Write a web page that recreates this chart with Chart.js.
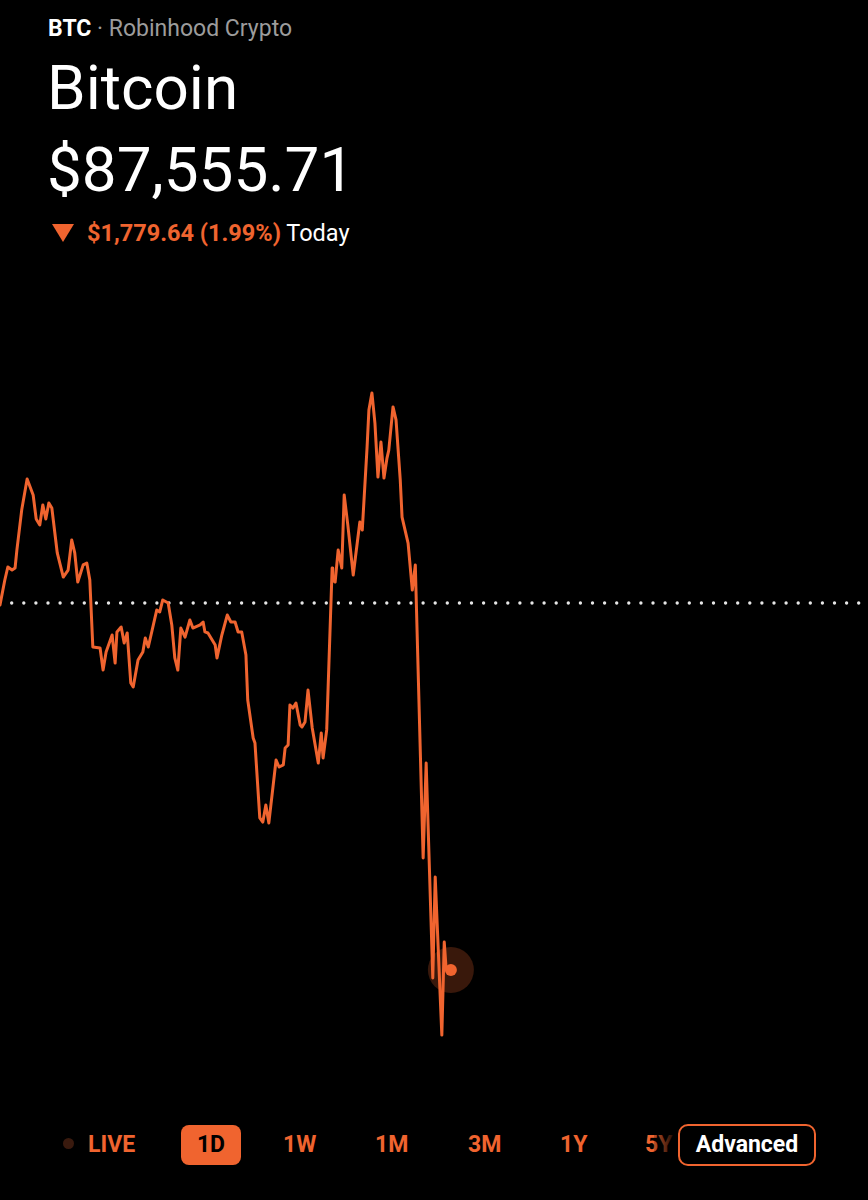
<!DOCTYPE html>
<html>
<head>
<meta charset="utf-8">
<script src="https://cdn.jsdelivr.net/npm/chart.js@4.4.1/dist/chart.umd.min.js"></script>
<style>
  html, body { margin: 0; padding: 0; background: #000; }
  body { width: 868px; height: 1200px; position: relative; overflow: hidden; font-family: Roboto, "Noto Sans", sans-serif; color: #fff; }
  .abs { position: absolute; white-space: nowrap; }
  #sub { left: 48px; top: 15px; font-size: 23px; line-height: 28px; color: #9c9c9c; }
  #sub b { color: #fff; font-weight: 700; }
  #name { left: 47px; top: 57px; font-size: 62px; line-height: 62px; }
  #price { left: 47px; top: 139px; font-size: 62px; line-height: 62px; }
  #change { left: 52px; top: 219px; font-size: 23.5px; line-height: 28px; }
  #change .tri { display: inline-block; width: 0; height: 0; border-left: 11px solid transparent; border-right: 11px solid transparent; border-top: 18px solid #f0642f; margin-right: 13px; vertical-align: -1px; }
  #change .dn { color: #f0642f; font-weight: 700; }
  #chartWrap { position: absolute; left: 0; top: 280px; width: 868px; height: 800px; }
  .tab { position: absolute; top: 1145px; transform: translateY(-50%); font-size: 23px; font-weight: 700; color: #f0642f; line-height: 26px; }
  #live .dot { display: inline-block; width: 11px; height: 11px; border-radius: 50%; background: #3a1a0e; margin-right: 14px; vertical-align: 3px; }
  #d1 { left: 181px; width: 60px; height: 40px; line-height: 40px; text-align: center; background: #f0642f; color: #000; border-radius: 8px; }
  #fade { position: absolute; left: 654px; top: 1120px; width: 26px; height: 50px; background: linear-gradient(to right, rgba(0,0,0,0.2), #000 90%); }
  #adv { left: 678px; width: 134px; height: 38px; line-height: 38px; text-align: center; border: 2px solid #f0642f; border-radius: 10px; color: #fff; background: #000; }
</style>
</head>
<body>
<div id="sub" class="abs"><b>BTC</b> · Robinhood Crypto</div>
<div id="name" class="abs">Bitcoin</div>
<div id="price" class="abs">$87,555.71</div>
<div id="change" class="abs"><span class="tri"></span><span class="dn">$1,779.64 (1.99%)</span> Today</div>

<div id="chartWrap"><canvas id="btcChart"></canvas></div>

<div id="live" class="tab" style="left:63px"><span class="dot"></span>LIVE</div>
<div id="d1" class="tab">1D</div>
<div class="tab" style="left:283px">1W</div>
<div class="tab" style="left:375px">1M</div>
<div class="tab" style="left:468px">3M</div>
<div class="tab" style="left:560px">1Y</div>
<div class="tab" style="left:645px">5Y</div>
<div id="fade"></div>
<div id="adv" class="tab">Advanced</div>

<script>
// minutes since the start of the 24h window
const minutes = [
    0, 8, 13, 20, 25, 28, 36, 45, 55, 60, 66, 71, 76, 81, 86, 95, 105, 113, 119, 124,
    129, 138, 144, 149, 154, 166, 171, 176, 186, 191, 194, 201, 206, 211, 217, 221, 229, 237, 241, 246,
    260, 265, 270, 279, 285, 290, 295, 300, 307, 315, 320, 332, 337, 340, 345, 357, 360, 368, 377, 383,
    390, 395, 401, 408, 411, 420, 423, 431, 436, 441, 446, 458, 463, 470, 473, 478, 481, 486, 491, 498,
    501, 506, 511, 518, 528, 533, 536, 542, 551, 552, 556, 561, 567, 571, 577, 586, 597, 601, 609, 612,
    617, 622, 627, 632, 637, 642, 645, 652, 657, 664, 667, 677, 684, 689, 702, 707, 718, 722, 733, 737,
    740, 748
];

// BTC price in USD
const prices = [
    89326, 89447, 89510, 89495, 89505, 89592, 89786, 89937, 89859, 89743, 89714, 89811, 89743, 89820, 89796, 89578, 89461, 89495, 89641, 89578,
    89437, 89520, 89529, 89447, 89122, 89117, 89010, 89098, 89180, 89044, 89195, 89219, 89141, 89190, 88947, 88928, 89059, 89098, 89166, 89122,
    89301, 89292, 89350, 89335, 89229, 89069, 89010, 89214, 89170, 89253, 89214, 89229, 89243, 89195, 89190, 89132, 89069, 89180, 89277, 89243,
    89243, 89195, 89195, 89083, 88865, 88681, 88656, 88293, 88273, 88356, 88269, 88574, 88540, 88550, 88632, 88647, 88841, 88826, 88850, 88744,
    88734, 88758, 88913, 88729, 88559, 88705, 88584, 88720, 89505, 89447, 89437, 89592, 89505, 89859, 89714, 89471, 89728, 89689, 90092, 90271,
    90354, 90208, 89946, 90116, 89941, 90038, 90077, 90286, 90223, 89932, 89752, 89626, 89398, 89520, 88099, 88559, 87517, 88007, 87240, 87691,
    87566, 87555.71
];

const prevClose = 89335.35;
const dayMinutes = 1440;
const yMin = 87022.3;
const yMax = 90901.6;

const orange = 'rgb(240,100,47)';
const last = prices.length - 1;

const points = minutes.map((m, i) => ({ x: m, y: prices[i] }));

// marker datasets get empty end points so the layout keeps no room for the big halo
const marker = [{ x: 0, y: null }, { x: minutes[last], y: prices[last] }, { x: dayMinutes, y: null }];

new Chart(document.getElementById('btcChart'), {
    type: 'line',
    data: {
        datasets: [
            {
                data: points,
                borderColor: orange,
                borderWidth: 3,
                borderJoinStyle: 'round',
                borderCapStyle: 'round',
                pointRadius: 0,
                tension: 0,
                clip: false,
                order: 1
            },
            {
                data: marker,
                showLine: false,
                pointRadius: ctx => ctx.dataIndex === 1 ? 6 : 0,
                pointBorderWidth: 0,
                pointBackgroundColor: orange,
                clip: false,
                order: 0
            },
            {
                data: marker,
                showLine: false,
                pointRadius: ctx => ctx.dataIndex === 1 ? 23 : 0,
                pointBorderWidth: 0,
                pointBackgroundColor: 'rgba(240,100,47,0.24)',
                clip: false,
                order: 2
            },
            {
                data: [{ x: 0, y: prevClose }, { x: dayMinutes, y: prevClose }],
                borderColor: '#e6e6e6',
                borderWidth: 3.4,
                borderCapStyle: 'round',
                borderDash: [0, 12.1],
                borderDashOffset: 0.4,
                pointRadius: 0,
                clip: false,
                order: 3
            }
        ]
    },
    options: {
        responsive: true,
        maintainAspectRatio: false,
        animation: false,
        layout: { padding: 0 },
        plugins: { legend: { display: false }, tooltip: { enabled: false } },
        scales: {
            x: { type: 'linear', min: 0, max: dayMinutes, display: false },
            y: { min: yMin, max: yMax, display: false }
        }
    }
});
</script>
</body>
</html>
